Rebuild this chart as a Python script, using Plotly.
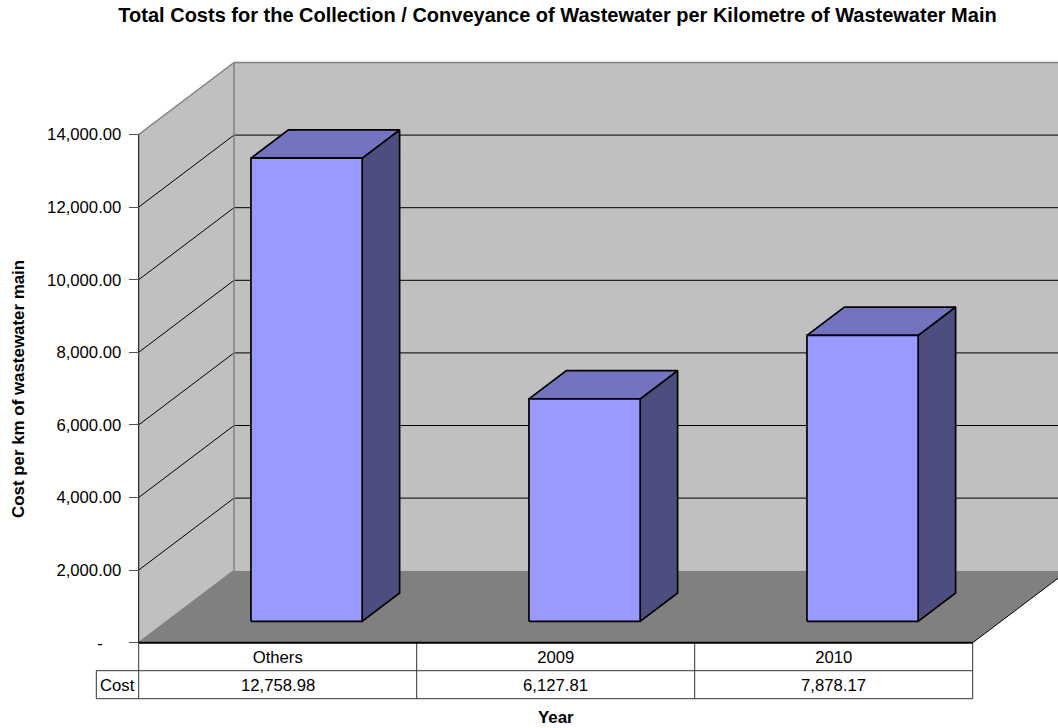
import plotly.graph_objects as go

# ---- data ----
categories = ["Others", "2009", "2010"]
costs = [12758.98, 6127.81, 7878.17]
tick_values = [0, 2000, 4000, 6000, 8000, 10000, 12000, 14000]
tick_labels = ["-\u00a0\u00a0\u00a0\u00a0", "2,000.00", "4,000.00", "6,000.00",
               "8,000.00", "10,000.00", "12,000.00", "14,000.00"]
cost_labels = ["12,758.98", "6,127.81", "7,878.17"]
row_label = "Cost"
chart_title = "Total Costs for the Collection / Conveyance of Wastewater per Kilometre of Wastewater Main"
x_title = "Year"
y_title = "Cost per km of wastewater main"

# ---- layout geometry: oblique projection, in pixels of the page ----
W, H = 1058, 728
FRONT_LEFT, CAT_PX = 138.7, 278.0
BASE_PX, PX_PER_UNIT = 642.7, 508.2 / 14000
DEPTH_DX_PX, DEPTH_DY_PX = 95.3, 72.0
BAR_WIDTH, BAR_D0, BAR_D1, BAR_SHIFT = 0.4, 0.297, 0.69, 0.002
ROW_PX = 28.0
YMAX = max(tick_values)
TXT = 16.7
BOLD = 16.9

dx = DEPTH_DX_PX / CAT_PX
dy = DEPTH_DY_PX / PX_PER_UNIT
xrange_ = [-FRONT_LEFT / CAT_PX, (W - FRONT_LEFT) / CAT_PX]
yrange_ = [(BASE_PX - H) / PX_PER_UNIT, BASE_PX / PX_PER_UNIT]
n = len(categories)


def proj(x, v, d=0.0):
    return x + d * dx, v + d * dy


def poly(pts, fill, line="rgba(0,0,0,0)", width=0):
    xs, ys = zip(*(pts + pts[:1]))
    return go.Scatter(x=xs, y=ys, mode="lines", fill="toself", fillcolor=fill,
                      line=dict(color=line, width=width), hoverinfo="skip", showlegend=False)


def seg(a, b, color="black", width=1):
    return go.Scatter(x=[a[0], b[0]], y=[a[1], b[1]], mode="lines",
                      line=dict(color=color, width=width), hoverinfo="skip", showlegend=False)


fig = go.Figure()
WALL, FLOOR, GREY = "#c0c0c0", "#808080", "#808080"

# back wall, side wall, floor
fig.add_trace(poly([proj(0, 0, 1), proj(n, 0, 1), proj(n, YMAX, 1), proj(0, YMAX, 1)], WALL))
fig.add_trace(poly([proj(0, 0), proj(0, 0, 1), proj(0, YMAX, 1), proj(0, YMAX)], WALL))
fig.add_trace(poly([proj(0, 0), proj(n, 0), proj(n, 0, 1), proj(0, 0, 1)], FLOOR))

# gridlines
for v in tick_values[1:-1]:
    fig.add_trace(seg(proj(0, v), proj(0, v, 1)))
    fig.add_trace(seg(proj(0, v, 1), proj(n, v, 1)))

# wall borders
fig.add_trace(seg(proj(0, YMAX), proj(0, YMAX, 1), GREY, 1.5))
fig.add_trace(seg(proj(0, YMAX, 1), proj(n, YMAX, 1), GREY, 1.5))
fig.add_trace(seg(proj(0, 0, 1), proj(0, YMAX, 1), GREY, 1.5))
fig.add_trace(seg(proj(0, 0), proj(0, 0, 1), GREY, 1.5))
fig.add_trace(seg(proj(n, 0), proj(n, 0, 1), "black", 1))
fig.add_trace(seg(proj(0, 0), proj(0, YMAX), "black", 1))

# bars
for i, v in enumerate(costs):
    c = i + 0.5 + BAR_SHIFT
    l, r = c - BAR_WIDTH / 2, c + BAR_WIDTH / 2
    fig.add_trace(poly([proj(r, 0, BAR_D0), proj(r, 0, BAR_D1), proj(r, v, BAR_D1), proj(r, v, BAR_D0)],
                       "#4d4d7f", "black", 1.7))
    fig.add_trace(poly([proj(l, v, BAR_D0), proj(r, v, BAR_D0), proj(r, v, BAR_D1), proj(l, v, BAR_D1)],
                       "#7373bf", "black", 1.7))
    fig.add_trace(poly([proj(l, 0, BAR_D0), proj(r, 0, BAR_D0), proj(r, v, BAR_D0), proj(l, v, BAR_D0)],
                       "#9999ff", "black", 1.7))

# data table under the axis
row = ROW_PX / PX_PER_UNIT
cost_left = (96.3 - FRONT_LEFT) / CAT_PX
for k in (1, 2):
    fig.add_trace(seg((cost_left, -k * row), (n, -k * row), "#333333", 1))
fig.add_trace(seg((cost_left, -row), (cost_left, -2 * row), "#333333", 1))
for c in range(n + 1):
    fig.add_trace(seg((c, 0), (c, -2 * row), "#333333", 1))
fig.add_trace(seg((0, 0), (n, 0), "black", 2))

annotations = [dict(x=i + 0.5, y=-1.5 * row, yshift=-1, text=t, showarrow=False, xref="x", yref="y",
                    font=dict(size=TXT))
               for i, t in enumerate(cost_labels)]
annotations.append(dict(x=cost_left / 2, y=-1.5 * row, yshift=-1, text=row_label, showarrow=False,
                        xref="x", yref="y", font=dict(size=TXT)))
annotations.append(dict(x=n / 2, y=(BASE_PX - 717) / PX_PER_UNIT, text="<b>%s</b>" % x_title,
                        showarrow=False, xref="x", yref="y", font=dict(size=BOLD)))
annotations.append(dict(x=(18 - FRONT_LEFT) / CAT_PX, y=(BASE_PX - 389) / PX_PER_UNIT,
                        text="<b>%s</b>" % y_title, textangle=-90,
                        showarrow=False, xref="x", yref="y", font=dict(size=BOLD)))

fig.update_layout(
    width=W, height=H, margin=dict(l=0, r=0, t=0, b=0),
    paper_bgcolor="white", plot_bgcolor="white", showlegend=False,
    font=dict(family="Liberation Sans, Arial, sans-serif", size=TXT, color="black"),
    title=dict(text="<b>%s</b>" % chart_title, x=(117 + 998) / 2 / W, xanchor="center",
               y=1 - 15 / H, yanchor="middle", font=dict(size=20)),
    annotations=annotations,
    xaxis=dict(range=xrange_, showgrid=False, zeroline=False, showline=False, anchor="free",
               position=(H - BASE_PX) / H, tickmode="array",
               tickvals=[i + 0.5 for i in range(n)], ticktext=categories,
               ticks="", ticklen=0, ticklabelstandoff=3),
    yaxis=dict(range=yrange_, showgrid=False, zeroline=False, showline=False, anchor="free",
               position=FRONT_LEFT / W, tickmode="array", tickvals=tick_values, ticktext=tick_labels,
               ticks="outside", ticklen=10, tickcolor="#555555", ticklabelstandoff=4),
)
fig.write_html("out.html", config={"displayModeBar": False},
               post_script="document.body.style.margin='0';")
